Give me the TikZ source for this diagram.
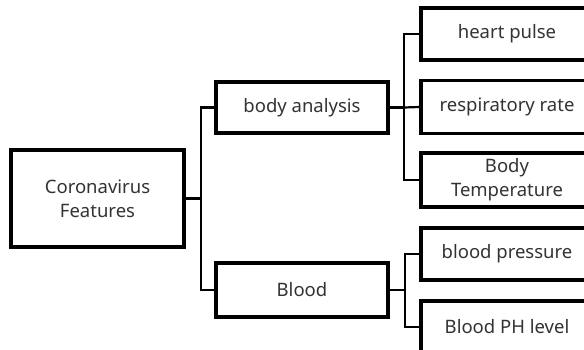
\documentclass[tikz,border=0pt]{standalone}
\usepackage{fontspec}
\setmainfont{Noto Sans}
\begin{document}
\begin{tikzpicture}[x=1pt,y=-1pt,
  box/.style={draw=black,line width=3.5pt,fill=white,minimum width=172pt,align=center,inner sep=0pt,font=\fontsize{18.5}{24}\selectfont,text=black!80},
  link/.style={draw=black,line width=2.2pt}]
\useasboundingbox (0,0) rectangle (584,350);
\clip (0,0) rectangle (584,350);
\node[box,minimum width=173pt,minimum height=97pt] (root) at (97.5,198.5) {Coronavirus\\Features};
\node[box,minimum height=51pt] (body) at (302,107.5) {body analysis};
\node[box,minimum height=54pt] (blood) at (302,290) {Blood};
\node[box,minimum height=52pt] (heart) at (507,34) {heart pulse};
\node[box,minimum height=53pt] (resp) at (507,107) {respiratory rate};
\node[box,minimum height=54pt] (temp) at (507,180) {Body\\Temperature};
\node[box,minimum height=52pt] (bp) at (507,254) {blood pressure};
\node[box,minimum height=52pt] (ph) at (507,327) {Blood PH level};
\coordinate (t0) at (201,198.5);
\coordinate (t1) at (404,107.5);
\coordinate (t2) at (405,290);
\draw[link] (root.east) -- (t0);
\draw[link] (t0) |- (body.west);
\draw[link] (t0) |- (blood.west);
\draw[link] (body.east) -- (t1);
\draw[link] (t1) |- (heart.west);
\draw[link] (t1) -- (resp.west);
\draw[link] (t1) |- (temp.west);
\draw[link] (blood.east) -- (t2);
\draw[link] (t2) |- (bp.west);
\draw[link] (t2) |- (ph.west);
\end{tikzpicture}
\end{document}
